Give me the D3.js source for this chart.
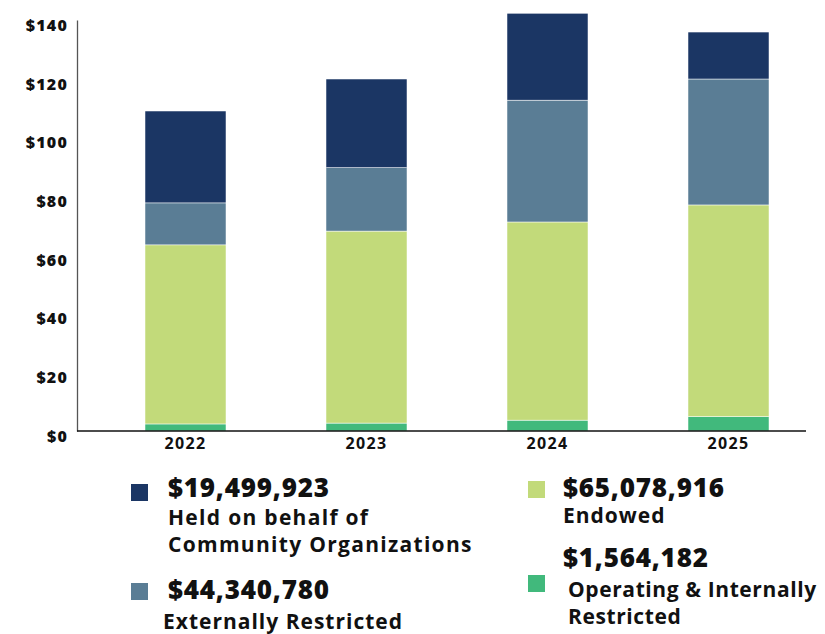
<!DOCTYPE html>
<html>
<head>
<meta charset="utf-8">
<script src="https://cdn.jsdelivr.net/npm/d3@7"></script>
<style>
  body { margin: 0; background: #fff; }
  svg text { font-family: "Open Sans", "DejaVu Sans", sans-serif; fill: #111; }
</style>
</head>
<body>
<div id="chart"></div>
<script>
const width = 825;
const height = 634;

// data (millions)
const years = ["2022", "2023", "2024", "2025"];
const operating = [2.4, 2.7, 3.7, 4.9];
const endowed = [61.0, 65.4, 67.5, 72.1];
const external = [14.3, 21.6, 41.5, 42.9];
const heldOnBehalf = [31.3, 30.2, 29.6, 16.0];
const yTicks = [0, 20, 40, 60, 80, 100, 120, 140];

const seriesKeys = ["operating", "endowed", "external", "held"];
const seriesColors = ["#41b97c", "#c2da7a", "#5a7d95", "#1b3664"];

// legend text
const legendAmounts = ["$19,499,923", "$65,078,916", "$44,340,780", "$1,564,182"];
const legendLabels = [
  ["Held on behalf of", "Community Organizations"],
  ["Endowed"],
  ["Externally Restricted"],
  ["Operating & Internally", "Restricted"]
];
const legendKeys = ["held", "endowed", "external", "operating"];

const rows = years.map((yr, i) => ({
  year: yr,
  operating: operating[i],
  endowed: endowed[i],
  external: external[i],
  held: heldOnBehalf[i]
}));

const color = d3.scaleOrdinal().domain(seriesKeys).range(seriesColors);

const svg = d3.select("#chart").append("svg")
  .attr("width", width)
  .attr("height", height);

const x = d3.scaleBand()
  .domain(years)
  .range([145, 769])
  .paddingInner(0.5525)
  .paddingOuter(0);

const y = d3.scaleLinear()
  .domain([0, 140])
  .range([431, 20]);

const stacked = d3.stack().keys(seriesKeys)(rows);

svg.append("g")
  .selectAll("g")
  .data(stacked)
  .join("g")
  .attr("fill", d => color(d.key))
  .selectAll("rect")
  .data(d => d)
  .join("rect")
  .attr("x", d => x(d.data.year))
  .attr("width", x.bandwidth())
  .attr("y", d => y(d[1]))
  .attr("height", d => y(d[0]) - y(d[1]))
  .attr("stroke", "#fff")
  .attr("stroke-width", 0.5);

// y axis
const yAxis = svg.append("g")
  .attr("transform", "translate(77,0)")
  .call(d3.axisLeft(y).tickValues(yTicks).tickSize(0).tickPadding(9).tickFormat(d => "$" + d));
yAxis.select(".domain").attr("stroke", "#555").attr("stroke-width", 1.3);
yAxis.selectAll("text")
  .attr("dy", "0.65em")
  .style("font-size", "16px")
  .style("font-weight", 800)
  .style("letter-spacing", "1.2px");

// x axis
const xAxis = svg.append("g")
  .attr("transform", "translate(0,431)")
  .call(d3.axisBottom(x).tickSize(0).tickPadding(7));
xAxis.select(".domain").remove();
xAxis.selectAll("text")
  .style("font-size", "16px")
  .style("font-weight", 700)
  .style("letter-spacing", "1.3px");

svg.append("line")
  .attr("x1", 77).attr("x2", 806)
  .attr("y1", y(0)).attr("y2", y(0))
  .attr("stroke", "#111")
  .attr("stroke-width", 1.6);

// legend
const legendPos = [
  {sx: 131, sy: 484, tx: 168, ty: 497, lx: 168, ly: 525, ls: 1.3},
  {sx: 528, sy: 481, tx: 563, ty: 497, lx: 563, ly: 523, ls: 1.0},
  {sx: 131, sy: 583, tx: 168, ty: 599, lx: 163, ly: 629, ls: 1.0},
  {sx: 528, sy: 575, tx: 563, ty: 567, lx: 568, ly: 597, ls: 0.6}
];

const legend = svg.append("g")
  .selectAll("g")
  .data(legendKeys)
  .join("g");

legend.append("rect")
  .attr("x", (d, i) => legendPos[i].sx)
  .attr("y", (d, i) => legendPos[i].sy)
  .attr("width", 17)
  .attr("height", 17)
  .attr("fill", d => color(d));

legend.append("text")
  .attr("x", (d, i) => legendPos[i].tx)
  .attr("y", (d, i) => legendPos[i].ty)
  .style("font-size", "26px")
  .style("font-weight", 800)
  .style("letter-spacing", "0.8px")
  .text((d, i) => legendAmounts[i]);

legend.append("text")
  .attr("x", (d, i) => legendPos[i].lx)
  .attr("y", (d, i) => legendPos[i].ly)
  .style("font-size", "21px")
  .style("font-weight", 700)
  .style("letter-spacing", (d, i) => legendPos[i].ls + "px")
  .selectAll("tspan")
  .data((d, i) => legendLabels[i].map(t => ({t, i})))
  .join("tspan")
  .attr("x", d => legendPos[d.i].lx)
  .attr("dy", (d, j) => j === 0 ? 0 : 27)
  .text(d => d.t);
</script>
</body>
</html>
